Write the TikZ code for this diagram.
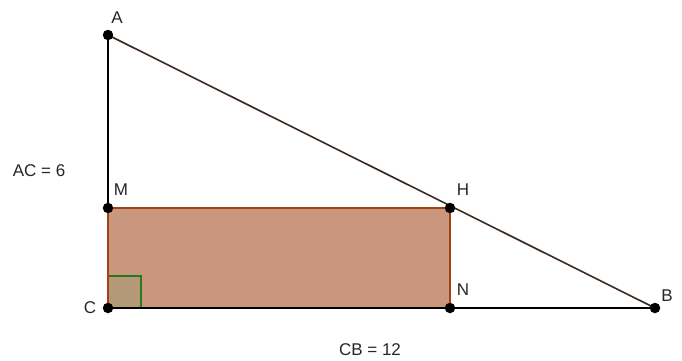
\documentclass[tikz,border=0pt]{standalone}
\usepackage{fontspec}
\setmainfont{Liberation Sans}
\definecolor{rectfill}{RGB}{201,151,125}
\definecolor{rectline}{RGB}{165,65,20}
\definecolor{angfill}{RGB}{180,152,120}
\definecolor{angline}{RGB}{40,120,30}
\definecolor{hyp}{RGB}{60,40,30}
\begin{document}
\begin{tikzpicture}[x=1pt,y=-1pt,
  pt/.style={circle,fill=black,inner sep=0pt,minimum size=10.5pt},
  lbl/.style={font=\fontsize{17}{19}\selectfont,inner sep=0pt,text=black!85}]
\useasboundingbox (0,0) rectangle (682,360);
\fill[white] (0,0) rectangle (682,360);
\coordinate (A) at (108,35);
\coordinate (M) at (108,208);
\coordinate (C) at (108,308);
\coordinate (H) at (450,208);
\coordinate (N) at (450,308);
\coordinate (B) at (655,308);
\fill[rectfill] (C) rectangle (H);
\filldraw[fill=angfill,draw=angline,line width=1.5pt] (C) rectangle ++(33,-32);
\draw[rectline,line width=1.4pt] (M) -- (H) -- (N);
\draw[rectline,line width=1.4pt] (C) -- (M);
\draw[black,line width=1.4pt] (A) -- (M);
\draw[black,line width=1.4pt] (C) -- (B);
\draw[hyp,line width=1.6pt] (A) -- (B);
\foreach \p in {A,M,C,H,N,B} \node[pt] (p\p) at (\p) {};
\node[lbl] (lA) at (117,18) {A};
\node[lbl] (lM) at (121,190) {M};
\node[lbl] (lH) at (463,190) {H};
\node[lbl] (lN) at (463,290) {N};
\node[lbl] (lC) at (90,308) {C};
\node[lbl] (lB) at (667,296) {B};
\node[lbl] (tAC) at (39,171) {AC = 6};
\node[lbl] (tCB) at (370,350) {CB = 12};
\end{tikzpicture}
\end{document}
